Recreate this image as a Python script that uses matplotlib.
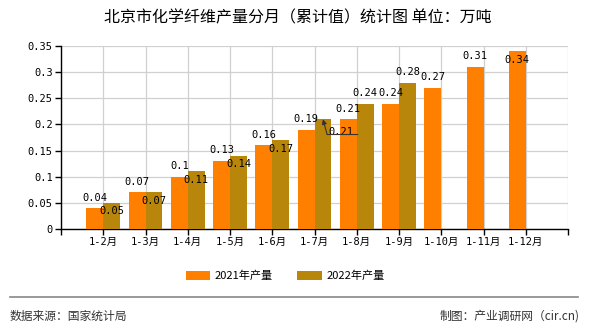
import matplotlib
matplotlib.use("Agg")
import matplotlib.pyplot as plt
from matplotlib.patches import Patch
from matplotlib.lines import Line2D
from matplotlib.transforms import offset_copy

plt.rcParams['font.family'] = ['Noto Sans CJK SC', 'DejaVu Sans']

title = "北京市化学纤维产量分月（累计值）统计图 单位：万吨"
categories = ["1-2月", "1-3月", "1-4月", "1-5月", "1-6月", "1-7月",
              "1-8月", "1-9月", "1-10月", "1-11月", "1-12月"]
values_2021 = [0.04, 0.07, 0.1, 0.13, 0.16, 0.19, 0.21, 0.24, 0.27, 0.31, 0.34]
values_2022 = [0.05, 0.07, 0.11, 0.14, 0.17, 0.21, 0.24, 0.28]
labels_2021 = ["0.04", "0.07", "0.1", "0.13", "0.16", "0.19", "0.21", "0.24", "0.27", "0.31", "0.34"]
labels_2022 = ["0.05", "0.07", "0.11", "0.14", "0.17", "0.21", "0.24", "0.28"]
series_names = ["2021年产量", "2022年产量"]
yticks = [0, 0.05, 0.1, 0.15, 0.2, 0.25, 0.3, 0.35]
ytick_labels = ["0", "0.05", "0.1", "0.15", "0.2", "0.25", "0.3", "0.35"]
source_text = "数据来源：国家统计局"
credit_text = "制图：产业调研网（cir.cn)"

# label placement styles: 'a' above, 'b' below (inside), 'l' leader line
place_2021 = ['a'] * 10 + ['b']
place_2022 = ['b', 'b', 'b', 'b', 'b', 'l', 'a', 'a']

C1 = "#FF8000"
C2 = "#B8860B"
numfont = ['DejaVu Sans Mono', 'Noto Sans CJK SC']

fig = plt.figure(figsize=(5.9, 3.3), dpi=100)
ax = fig.add_axes([61/590, 1-229/330, 507/590, 183/330])

n = len(categories)
xs = list(range(1, n + 1))
w = 0.4
ax.bar([x - w/2 for x in xs], values_2021, width=w, color=C1, zorder=3)
ax.bar([x + w/2 for x in xs[:len(values_2022)]], values_2022, width=w, color=C2, zorder=3)

ax.set_xlim(0, n + 1)
ax.set_ylim(0, 0.35)
ax.set_xticks(range(0, n + 2))
ax.set_xticklabels([""] + categories + [""], fontsize=7.5, family=numfont)
ax.set_yticks(yticks)
ax.set_yticklabels(ytick_labels, fontsize=7.5, family=numfont)
ax.grid(True, color="#d0d0d0", linewidth=0.9, zorder=0)
ax.set_axisbelow(True)
for s in ["top", "right"]:
    ax.spines[s].set_visible(False)
for s in ["left", "bottom"]:
    ax.spines[s].set_color("black")
    ax.spines[s].set_linewidth(1.0)
ax.tick_params(axis='both', direction='out', length=4, width=1, color='black', pad=2)

def put(x, v, lab, mode):
    if mode == 'a':
        ax.annotate(lab, (x, v), xytext=(0, 4), textcoords='offset points',
                    ha='center', va='bottom', fontsize=7.5, family=numfont, zorder=5)
    elif mode == 'b':
        ax.annotate(lab, (x, v), xytext=(0, -2.5), textcoords='offset points',
                    ha='center', va='top', fontsize=7.5, family=numfont, zorder=5)
    else:
        ax.annotate(lab, (x, v), xytext=(13, -12.5), textcoords='offset points',
                    ha='center', va='bottom', fontsize=7.5, family=numfont, zorder=5)
        ax.annotate("", xy=(x, v), xytext=(3, -11), textcoords='offset points',
                    arrowprops=dict(arrowstyle='-|>', color='#333333', lw=0.8,
                                    mutation_scale=7, shrinkA=0, shrinkB=0), zorder=5)
        tr = offset_copy(ax.transData, fig=fig, x=3, y=-11, units='points')
        ax.plot([x, x + 0.7], [v, v], transform=tr, color='#333333', lw=0.8, zorder=5)

for x, v, lab, m in zip(xs, values_2021, labels_2021, place_2021):
    put(x - w/2, v, lab, m)
for x, v, lab, m in zip(xs, values_2022, labels_2022, place_2022):
    put(x + w/2, v, lab, m)

fig.text(0.505, 1 - 18/330, title, ha='center', va='center', fontsize=11.5)

handles = [Patch(facecolor=C1), Patch(facecolor=C2)]
fig.legend(handles, series_names, loc='center', bbox_to_anchor=(285/590, 1 - 276/330),
           ncol=2, frameon=False, fontsize=8, handlelength=2.2, handleheight=0.9,
           handletextpad=0.4, columnspacing=2.2)

fig.add_artist(Line2D([10/590, 578/590], [1 - 297/330, 1 - 297/330],
                      transform=fig.transFigure, color="#888888", lw=1.2))
fig.text(10/590, 1 - 316/330, source_text, ha='left', va='center', fontsize=8.5, color="#333333")
fig.text(580/590, 1 - 316/330, credit_text, ha='right', va='center', fontsize=8.5, color="#333333")

fig.savefig("out.png", dpi=100)
